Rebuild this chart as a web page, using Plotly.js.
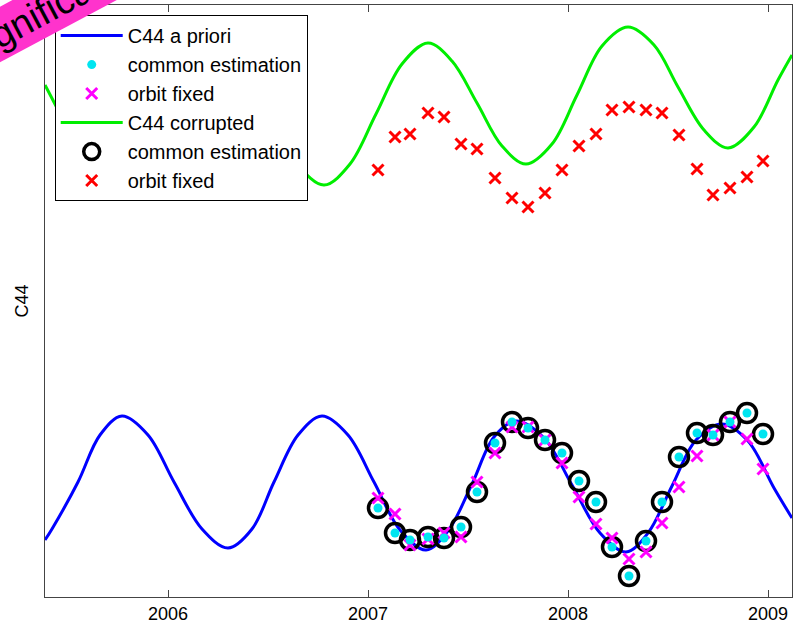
<!DOCTYPE html>
<html><head><meta charset="utf-8">
<script src="https://cdn.plot.ly/plotly-3.0.1.min.js"></script>
<style>body{margin:0;background:#fff}</style></head>
<body><div id="c" style="width:805px;height:627px"></div>
<script>
// y values are on an arbitrary C44 scale (axis drawn reversed, no labels)
const aprioriT = [2005.385,2005.42,2005.55,2005.66,2005.77,2005.9,2006.03,2006.17,2006.3,2006.42,2006.53,2006.65,2006.77,2006.9,2007.03,2007.16,2007.29,2007.4,2007.52,2007.63,2007.74,2007.88,2008.02,2008.16,2008.29,2008.4,2008.52,2008.64,2008.77,2008.9,2009.03,2009.12];
const aprioriY = [540,529,482,435,416,435,482,529,548,529,482,435,416,435,482,530,550,531,484,437,421,438,485,533,552,533,486,440,424,441,488,518];
const corruptT = [2005.385,2005.5,2005.63,2005.76,2005.89,2006.015,2006.14,2006.27,2006.4,2006.525,2006.65,2006.78,2006.91,2007.04,2007.17,2007.3,2007.42,2007.545,2007.67,2007.79,2007.92,2008.045,2008.17,2008.3,2008.43,2008.55,2008.68,2008.8,2008.93,2009.05,2009.12];
const corruptY = [85,129,178,198,177,125,73,52,71,118,165,185,164,114,64,43,61,103,146,164,144,95,46,27,45,87,130,148,127,80,55];
const obsT = [2007.05,2007.135,2007.21,2007.3,2007.38,2007.465,2007.545,2007.635,2007.72,2007.8,2007.885,2007.97,2008.055,2008.14,2008.22,2008.305,2008.39,2008.47,2008.555,2008.645,2008.725,2008.81,2008.895,2008.975];
const commonY = [508,533,540,537,538,527,492,443,422,428,440,453,481,502,547,576,541,502,457,433,435,422,413,434];
const fixedY  = [498,514,545,539,533,537,482,453,427,427,440,463,497,524,538,559,552,523,487,456,435,422,439,469];
const corrFixedY = [170,137,134,113,117,144,149,178,198,207,193,170,146,134,110,107,110,113,135,169,195,188,177,161];
const tickVals = [2006,2007,2008,2009];
const tickText = ['2006','2007','2008','2009'];

const traces = [
 {x:aprioriT,y:aprioriY,mode:'lines',line:{color:'#0000ff',width:3,shape:'spline',smoothing:1},name:'C44 a priori',legendrank:1},
 {x:corruptT,y:corruptY,mode:'lines',line:{color:'#00ee00',width:3,shape:'spline',smoothing:1},name:'C44 corrupted',legendrank:4},
 {x:obsT,y:commonY,mode:'markers',marker:{color:'rgba(255,255,255,0)',symbol:'circle',size:19,line:{color:'#000',width:3.5}},name:'common estimation',legendrank:5},
 {x:obsT,y:fixedY,mode:'markers',marker:{color:'#ff00ff',symbol:'x-thin',size:11,line:{color:'#ff00ff',width:3}},name:'orbit fixed',legendrank:3},
 {x:obsT,y:commonY,mode:'markers',marker:{color:'#00e5f0',size:9},name:'common estimation',legendrank:2},
 {x:obsT,y:corrFixedY,mode:'markers',marker:{color:'#ff0000',symbol:'x-thin',size:11,line:{color:'#ff0000',width:3}},name:'orbit fixed',legendrank:6}
];
const layout = {
 width:805,height:627,margin:{l:45,r:13,t:5,b:30},
 paper_bgcolor:'#fff',plot_bgcolor:'#fff',
 font:{family:'Liberation Sans, Arial, sans-serif',size:18,color:'#000'},
 xaxis:{range:[2005.385,2009.12],tickvals:tickVals,ticktext:tickText,ticks:'inside',ticklen:7,
   showline:true,linecolor:'#444',mirror:'ticks',showgrid:false,zeroline:false,tickfont:{size:18}},
 yaxis:{range:[597,5],showticklabels:false,ticks:'',showline:true,linecolor:'#444',mirror:true,
   showgrid:false,zeroline:false,title:{text:'C44',font:{size:18},standoff:10}},
 legend:{x:0.013,y:0.983,xanchor:'left',yanchor:'top',bgcolor:'#fff',bordercolor:'#000',borderwidth:1,
   font:{size:20},tracegroupgap:0,itemwidth:62,traceorder:'normal'},
 showlegend:true,
 annotations:[{xref:'paper',yref:'paper',x:-0.019,y:0.978,xanchor:'center',yanchor:'middle',
   text:'insignificant',showarrow:false,textangle:-28,bgcolor:'#ff33cc',font:{size:38,color:'#000'},
   borderpad:3}]
};
Plotly.newPlot('c',traces,layout,{displayModeBar:false});
</script></body></html>
